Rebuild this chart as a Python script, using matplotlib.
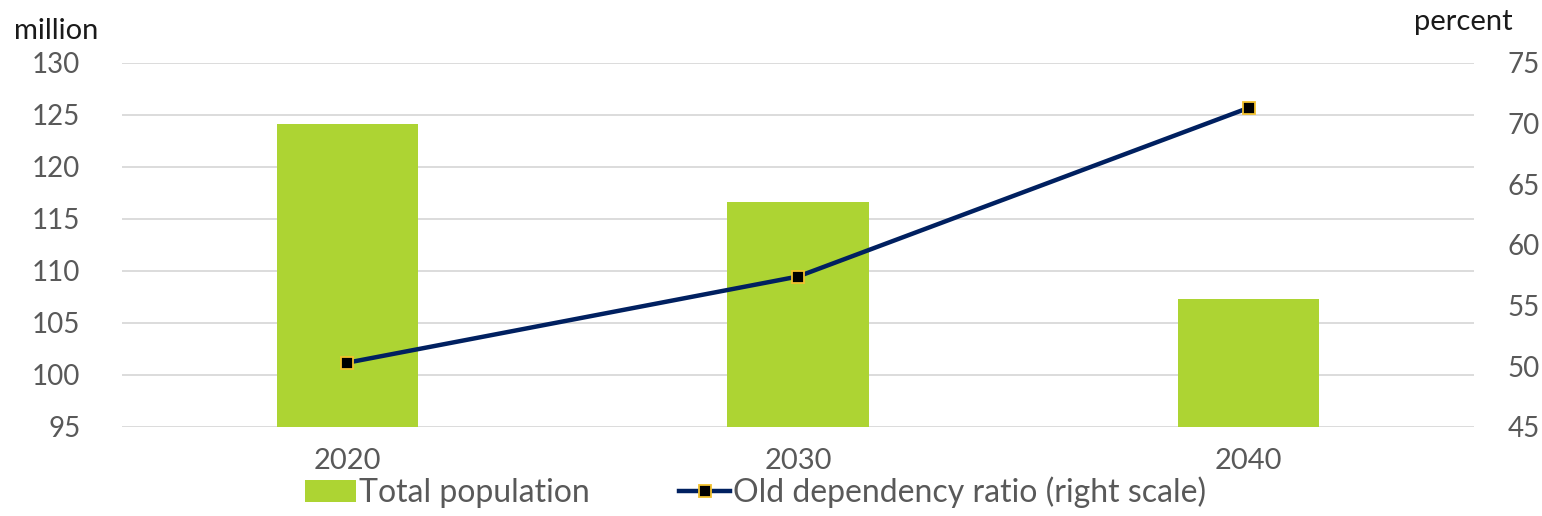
import matplotlib.pyplot as plt
import numpy as np

plt.rcParams['font.family'] = ['Lato', 'DejaVu Sans']

# Data
years = ['2020', '2030', '2040']
population = [124.1, 116.6, 107.3]        # million (left scale)
dependency = [50.3, 57.4, 71.3]           # percent (right scale)
left_ticks = [95, 100, 105, 110, 115, 120, 125, 130]
right_ticks = [45, 50, 55, 60, 65, 70, 75]

green = '#ADD433'
navy = '#002060'
gold = '#F2C12E'
grey_txt = '#595959'

x = np.arange(len(years))

fig = plt.figure(figsize=(15.42, 5.16), dpi=100)
ax1 = fig.add_axes([0.0791, 0.1725, 0.8768, 0.7055])

ax1.bar(x, population, width=0.313, color=green, label='Total population', zorder=2)
ax1.set_ylim(95, 130)
ax1.set_yticks(left_ticks)
ax1.set_xlim(-0.5, 2.5)
ax1.set_xticks(x)
ax1.set_xticklabels(years)
ax1.grid(axis='y', color='#D9D9D9', linewidth=1.3, zorder=0)
ax1.set_axisbelow(True)
ax1.tick_params(axis='y', length=0, pad=30, labelsize=20, labelcolor=grey_txt)
ax1.tick_params(axis='x', length=0, pad=15, labelsize=21, labelcolor=grey_txt)
for s in ax1.spines.values():
    s.set_visible(False)

ax2 = ax1.twinx()
ax2.plot(x, dependency, color=navy, linewidth=3.2, marker='s', markersize=9,
         markerfacecolor='black', markeredgecolor=gold, markeredgewidth=1.3,
         label='Old dependency ratio (right scale)', zorder=3)
ax2.set_ylim(45, 75)
ax2.set_yticks(right_ticks)
ax2.tick_params(axis='y', length=0, pad=24, labelsize=20, labelcolor=grey_txt)
for s in ax2.spines.values():
    s.set_visible(False)

fig.text(0.009, 0.94, 'million', fontsize=21, color='#1a1a1a', ha='left', va='center')
fig.text(0.981, 0.958, 'percent', fontsize=21, color='#1a1a1a', ha='right', va='center')

h1, l1 = ax1.get_legend_handles_labels()
h2, l2 = ax2.get_legend_handles_labels()
leg = fig.legend(h1 + h2, l1 + l2, loc='lower center', bbox_to_anchor=(0.49, -0.04),
                 ncol=2, frameon=False, fontsize=23, handlelength=1.6,
                 handletextpad=0.1, columnspacing=2.8)
for t in leg.get_texts():
    t.set_color(grey_txt)

plt.savefig('out.png', dpi=100)
